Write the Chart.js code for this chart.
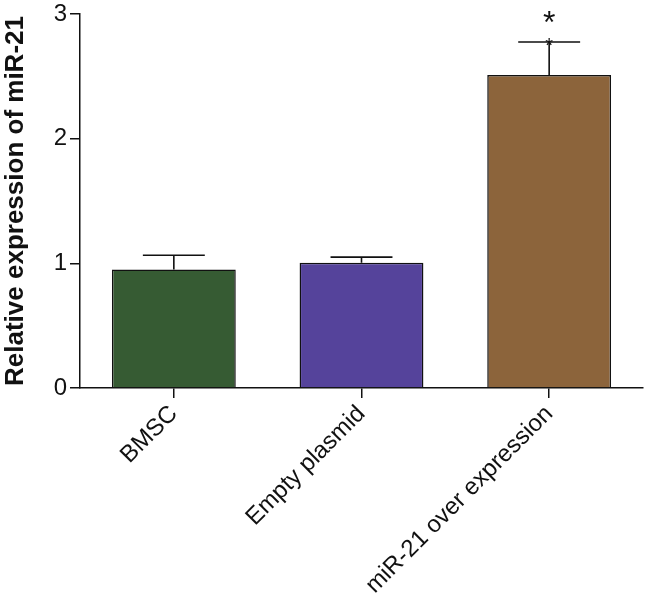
<!DOCTYPE html>
<html>
<head>
<meta charset="utf-8">
<script src="https://cdn.jsdelivr.net/npm/chart.js@4/dist/chart.umd.min.js"></script>
<style>
html,body{margin:0;padding:0;background:#fff;}
#wrap{width:650px;height:593px;}
</style>
</head>
<body>
<div id="wrap"><canvas id="c" width="650" height="593"></canvas></div>
<script>
const categories = ['BMSC', 'Empty plasmid', 'miR-21 over expression'];
const means = [0.95, 1.005, 2.51];
const errTop = [1.065, 1.05, 2.775];
const barColors = ['#365B33', '#55439B', '#8C643B'];
const significance = ['', '', '*'];
const yTicks = [0, 1, 2, 3];

const errorBarPlugin = {
  id: 'errorBars',
  afterDatasetsDraw(chart) {
    const ctx = chart.ctx;
    const meta = chart.getDatasetMeta(0);
    const y = chart.scales.y;
    ctx.save();
    ctx.strokeStyle = '#111';
    ctx.lineWidth = 1.6;
    meta.data.forEach((bar, i) => {
      const x = bar.x;
      const yTop = y.getPixelForValue(errTop[i]);
      const yBase = y.getPixelForValue(means[i]);
      const half = bar.width / 4;
      ctx.beginPath();
      ctx.moveTo(x, yBase);
      ctx.lineTo(x, yTop);
      ctx.moveTo(x - half, yTop);
      ctx.lineTo(x + half, yTop);
      ctx.stroke();
      if (significance[i]) {
        ctx.fillStyle = '#111';
        ctx.textAlign = 'center';
        ctx.textBaseline = 'middle';
        ctx.font = '20px "Liberation Sans", Arial, sans-serif';
        ctx.fillText(significance[i], x, yTop + 4);
        ctx.font = '32px "Liberation Sans", Arial, sans-serif';
        ctx.fillText(significance[i], x, yTop - 18);
      }
    });
    ctx.restore();
  }
};

new Chart(document.getElementById('c'), {
  type: 'bar',
  data: {
    labels: categories,
    datasets: [{
      data: means,
      backgroundColor: barColors,
      borderColor: '#111',
      borderWidth: 1.5,
      borderSkipped: 'bottom',
      barPercentage: 0.66,
      categoryPercentage: 1.0
    }]
  },
  options: {
    responsive: false,
    animation: false,
    devicePixelRatio: 1,
    layout: { padding: { top: 14, right: 7, left: 0, bottom: 0 } },
    plugins: { legend: { display: false }, tooltip: { enabled: false } },
    scales: {
      x: {
        offset: true,
        grid: { display: true, offset: false, drawOnChartArea: false, drawTicks: true, tickLength: 10, color: '#111', lineWidth: 1.5 },
        border: { display: true, color: '#111', width: 1.5 },
        ticks: {
          color: '#111',
          minRotation: 45,
          maxRotation: 45,
          padding: 2,
          font: { family: '"Liberation Sans", Arial, sans-serif', size: 24 }
        },
        afterFit(scale) { scale.height = 205; }
      },
      y: {
        min: 0,
        max: 3,
        afterBuildTicks(scale) { scale.ticks = yTicks.map(v => ({ value: v })); },
        grid: { display: true, drawOnChartArea: false, drawTicks: true, tickLength: 10, color: '#111', lineWidth: 1.5 },
        border: { display: true, color: '#111', width: 1.5 },
        ticks: {
          color: '#111',
          padding: 3,
          font: { family: '"Liberation Sans", Arial, sans-serif', size: 24, lineHeight: 0.9 }
        },
        title: {
          display: true,
          text: 'Relative expression of miR-21',
          color: '#111',
          padding: { top: 0, bottom: 4 },
          font: { family: '"Liberation Sans", Arial, sans-serif', size: 26, weight: 'bold' }
        },
        afterFit(scale) { scale.width = 80; }
      }
    }
  },
  plugins: [errorBarPlugin]
});
</script>
</body>
</html>
